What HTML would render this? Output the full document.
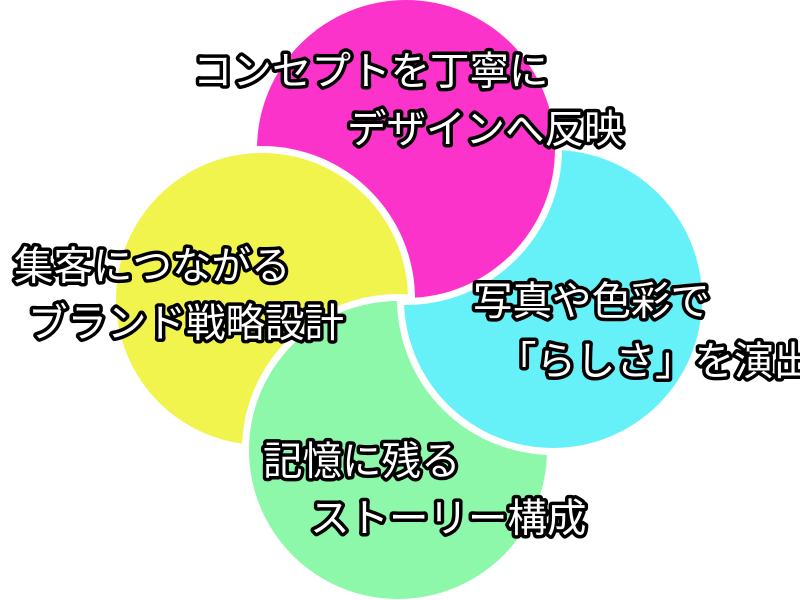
<!DOCTYPE html>
<html><head><meta charset="utf-8"><style>
html,body{margin:0;padding:0;background:#fff;width:800px;height:600px;overflow:hidden}
text{font-family:"Liberation Sans","Noto Sans CJK JP",sans-serif;font-size:39.5px;font-weight:400;fill:#fff;stroke:#000;stroke-width:7px;paint-order:stroke;stroke-linejoin:round}
</style></head><body>
<svg width="800" height="600" viewBox="0 0 800 600" xmlns="http://www.w3.org/2000/svg">
<defs>
<mask id="mM"><rect width="800" height="600" fill="#fff"/><circle cx="262" cy="299" r="153" fill="#000"/></mask>
<mask id="mY"><rect width="800" height="600" fill="#fff"/><circle cx="398" cy="450" r="156" fill="#000"/></mask>
<mask id="mG"><rect width="800" height="600" fill="#fff"/><circle cx="553" cy="299" r="156" fill="#000"/></mask>
<mask id="mC"><rect width="800" height="600" fill="#fff"/><circle cx="406" cy="149" r="156" fill="#000"/></mask>
</defs>
<circle cx="406" cy="149" r="149" fill="#fc33cb" mask="url(#mM)"/>
<circle cx="262" cy="299" r="146" fill="#f1f44c" mask="url(#mY)"/>
<circle cx="398" cy="450" r="149" fill="#8df8aa" mask="url(#mG)"/>
<circle cx="553" cy="299" r="149" fill="#66f0f7" mask="url(#mC)"/>
<text x="193" y="85">コンセプトを丁寧に</text>
<text x="347" y="143">デザインへ反映</text>
<text x="14" y="280">集客につながる</text>
<text x="28" y="337">ブランド戦略設計</text>
<text x="473" y="315">写真や色彩で</text>
<text x="497" y="375">「らしさ」を演出</text>
<text x="263" y="475">記憶に残る</text>
<text x="310" y="532">ストーリー構成</text>
</svg>
</body></html>
